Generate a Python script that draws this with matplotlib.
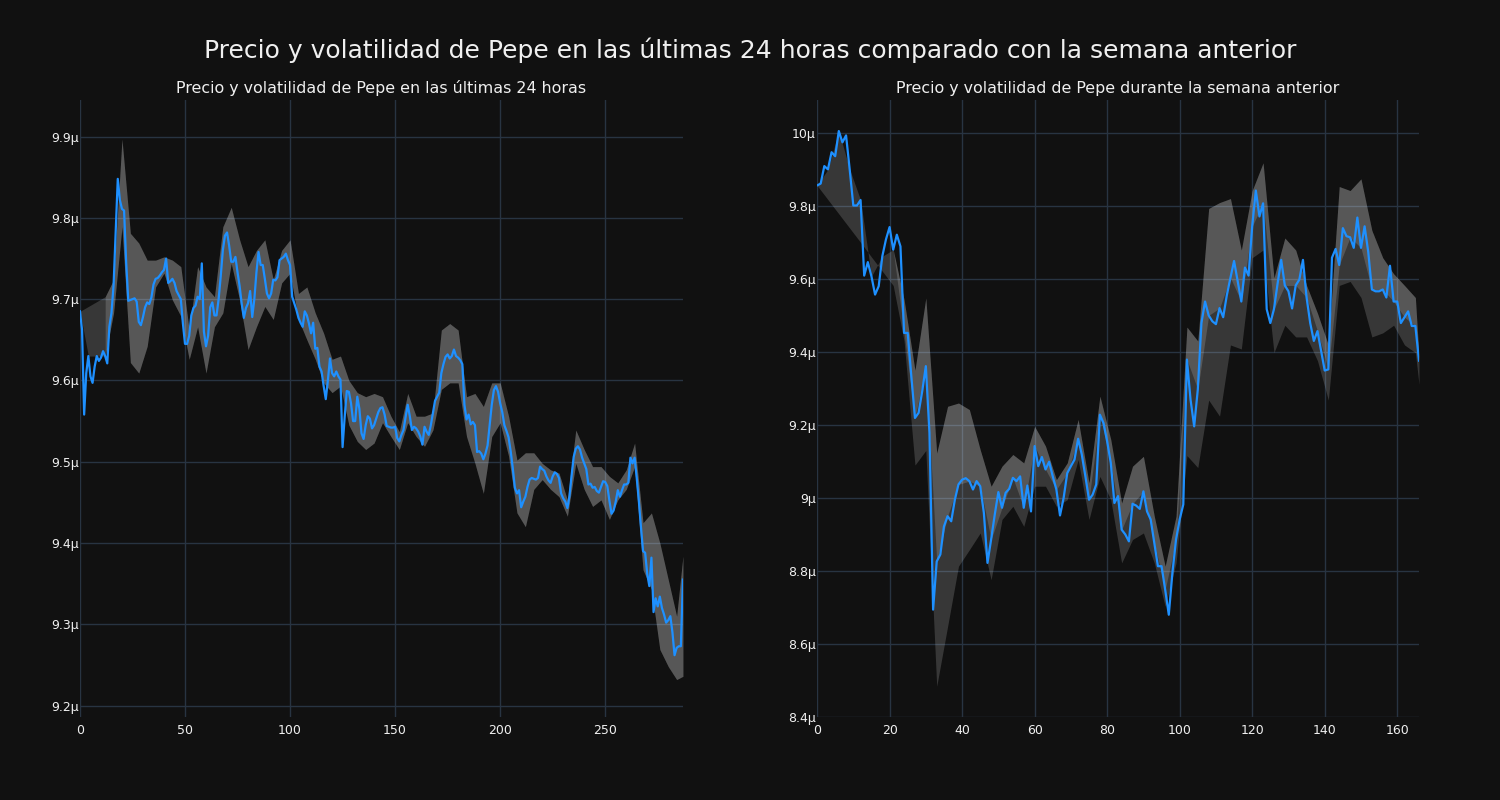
import matplotlib.pyplot as plt
from matplotlib.ticker import EngFormatter, MultipleLocator

# precio de Pepe (en micro-unidades), ultimas 24 horas, una muestra cada 5 min
day_price = [
    9.685, 9.662, 9.558, 9.609, 9.630, 9.605, 9.597, 9.617, 9.630, 9.624,
    9.628, 9.636, 9.630, 9.621, 9.666, 9.683, 9.717, 9.781, 9.848, 9.822,
    9.811, 9.809, 9.745, 9.698, 9.699, 9.700, 9.701, 9.697, 9.672, 9.668,
    9.678, 9.690, 9.696, 9.694, 9.702, 9.718, 9.725, 9.726, 9.729, 9.733,
    9.736, 9.750, 9.720, 9.722, 9.725, 9.720, 9.710, 9.705, 9.700, 9.670,
    9.645, 9.645, 9.655, 9.680, 9.689, 9.692, 9.703, 9.700, 9.744, 9.660,
    9.642, 9.655, 9.690, 9.696, 9.680, 9.680, 9.700, 9.728, 9.760, 9.778,
    9.782, 9.766, 9.746, 9.746, 9.752, 9.733, 9.716, 9.694, 9.677, 9.689,
    9.695, 9.710, 9.678, 9.700, 9.733, 9.758, 9.742, 9.742, 9.725, 9.707,
    9.701, 9.707, 9.724, 9.723, 9.727, 9.748, 9.750, 9.752, 9.756, 9.748,
    9.742, 9.703, 9.695, 9.687, 9.677, 9.671, 9.666, 9.685, 9.680, 9.670,
    9.658, 9.671, 9.639, 9.640, 9.617, 9.611, 9.593, 9.577, 9.600, 9.627,
    9.609, 9.605, 9.611, 9.605, 9.601, 9.518, 9.555, 9.587, 9.586, 9.572,
    9.550, 9.550, 9.580, 9.565, 9.535, 9.528, 9.545, 9.556, 9.553, 9.541,
    9.545, 9.553, 9.561, 9.566, 9.567, 9.558, 9.544, 9.543, 9.542, 9.542,
    9.543, 9.529, 9.525, 9.533, 9.539, 9.555, 9.570, 9.556, 9.539, 9.543,
    9.541, 9.537, 9.531, 9.521, 9.543, 9.537, 9.533, 9.545, 9.560, 9.575,
    9.580, 9.585, 9.609, 9.620, 9.629, 9.632, 9.627, 9.630, 9.638, 9.630,
    9.628, 9.625, 9.620, 9.570, 9.552, 9.558, 9.546, 9.549, 9.545, 9.512,
    9.513, 9.510, 9.503, 9.510, 9.520, 9.545, 9.570, 9.588, 9.593, 9.586,
    9.572, 9.561, 9.545, 9.538, 9.530, 9.513, 9.492, 9.468, 9.461, 9.465,
    9.444, 9.451, 9.457, 9.469, 9.478, 9.480, 9.479, 9.478, 9.480, 9.494,
    9.491, 9.489, 9.482, 9.477, 9.474, 9.482, 9.487, 9.485, 9.480, 9.461,
    9.455, 9.451, 9.443, 9.458, 9.483, 9.506, 9.516, 9.519, 9.515, 9.505,
    9.498, 9.491, 9.472, 9.473, 9.468, 9.469, 9.464, 9.462, 9.469, 9.476,
    9.475, 9.470, 9.452, 9.436, 9.440, 9.451, 9.465, 9.457, 9.465, 9.472,
    9.472, 9.474, 9.505, 9.498, 9.505, 9.480, 9.452, 9.420, 9.390, 9.388,
    9.362, 9.347, 9.382, 9.315, 9.332, 9.322, 9.334, 9.320, 9.312, 9.302,
    9.305, 9.310, 9.290, 9.262, 9.271, 9.273, 9.273, 9.355,
]

# banda de volatilidad (24 h), leida cada 4 muestras
day_band_idx = [
    0, 4, 8, 12, 16, 20, 24, 28, 32, 36, 40, 44, 48, 52, 56, 60, 64, 68,
    72, 76, 80, 84, 88, 92, 96, 100, 104, 108, 112, 116, 120, 124, 128, 132,
    136, 140, 144, 148, 152, 156, 160, 164, 168, 172, 176, 180, 184, 188,
    192, 196, 200, 204, 208, 212, 216, 220, 224, 228, 232, 236, 240, 244,
    248, 252, 256, 260, 264, 268, 272, 276, 280, 284, 287,
]
day_band_hi = [
    9.685, 9.691, 9.697, 9.703, 9.724, 9.897, 9.781, 9.769, 9.748, 9.748,
    9.752, 9.748, 9.740, 9.662, 9.740, 9.715, 9.703, 9.789, 9.813, 9.773,
    9.740, 9.760, 9.773, 9.724, 9.760, 9.773, 9.707, 9.715, 9.683, 9.658,
    9.626, 9.630, 9.600, 9.585, 9.580, 9.584, 9.580, 9.556, 9.537, 9.584,
    9.556, 9.556, 9.560, 9.662, 9.670, 9.662, 9.580, 9.584, 9.568, 9.597,
    9.597, 9.556, 9.502, 9.511, 9.511, 9.498, 9.490, 9.486, 9.453, 9.539,
    9.515, 9.494, 9.494, 9.482, 9.474, 9.490, 9.523, 9.425, 9.437, 9.400,
    9.355, 9.310, 9.384,
]
day_band_lo = [
    9.685, 9.630, 9.630, 9.630, 9.683, 9.789, 9.622, 9.609, 9.642, 9.715,
    9.732, 9.699, 9.679, 9.626, 9.666, 9.609, 9.666, 9.683, 9.744, 9.699,
    9.638, 9.666, 9.691, 9.675, 9.720, 9.732, 9.675, 9.650, 9.626, 9.597,
    9.585, 9.593, 9.545, 9.525, 9.515, 9.523, 9.548, 9.531, 9.515, 9.548,
    9.531, 9.519, 9.539, 9.589, 9.597, 9.597, 9.531, 9.498, 9.461, 9.531,
    9.548, 9.507, 9.437, 9.420, 9.466, 9.478, 9.466, 9.457, 9.433, 9.498,
    9.466, 9.445, 9.453, 9.429, 9.453, 9.466, 9.494, 9.367, 9.343, 9.269,
    9.248, 9.232, 9.236,
]

# precio de Pepe (en micro-unidades), semana anterior, una muestra por hora
week_price = [
    9.856, 9.861, 9.909, 9.900, 9.947, 9.936, 10.005, 9.974, 9.993, 9.900,
    9.801, 9.801, 9.816, 9.609, 9.646, 9.607, 9.557, 9.580, 9.662, 9.708,
    9.742, 9.680, 9.721, 9.689, 9.452, 9.452, 9.333, 9.219, 9.233, 9.292,
    9.361, 9.178, 8.694, 8.826, 8.845, 8.922, 8.950, 8.936, 8.995, 9.037,
    9.050, 9.054, 9.046, 9.023, 9.046, 9.032, 8.959, 8.822, 8.886, 8.954,
    9.016, 8.973, 9.014, 9.025, 9.055, 9.046, 9.059, 8.973, 9.034, 8.963,
    9.142, 9.087, 9.112, 9.078, 9.099, 9.059, 9.023, 8.952, 9.000, 9.068,
    9.087, 9.105, 9.162, 9.119, 9.059, 8.995, 9.009, 9.037, 9.228, 9.205,
    9.155, 9.096, 8.986, 9.005, 8.913, 8.900, 8.881, 8.984, 8.979, 8.970,
    9.018, 8.963, 8.941, 8.877, 8.813, 8.813, 8.749, 8.680, 8.795, 8.886,
    8.941, 8.982, 9.379, 9.269, 9.196, 9.297, 9.479, 9.538, 9.500, 9.484,
    9.476, 9.520, 9.495, 9.555, 9.603, 9.649, 9.593, 9.538, 9.631, 9.609,
    9.744, 9.842, 9.771, 9.807, 9.517, 9.479, 9.517, 9.587, 9.652, 9.582,
    9.566, 9.519, 9.582, 9.598, 9.652, 9.549, 9.479, 9.430, 9.457, 9.403,
    9.349, 9.352, 9.658, 9.682, 9.638, 9.739, 9.717, 9.714, 9.685, 9.768,
    9.685, 9.744, 9.674, 9.571, 9.566, 9.566, 9.571, 9.549, 9.636, 9.538,
    9.538, 9.479, 9.495, 9.511, 9.471, 9.471, 9.376,
]

# banda de volatilidad (semana), leida cada 3 muestras
week_band_idx = [
    0, 3, 6, 9, 12, 15, 18, 21, 24, 27, 30, 33, 36, 39, 42, 45, 48, 51, 54,
    57, 60, 63, 66, 69, 72, 75, 78, 81, 84, 87, 90, 93, 96, 99, 102, 105,
    108, 111, 114, 117, 120, 123, 126, 129, 132, 135, 138, 141, 144, 147,
    150, 153, 156, 159, 162, 165, 166,
]
week_band_hi = [
    9.856, 9.900, 10.005, 9.900, 9.816, 9.607, 9.662, 9.680, 9.543, 9.350,
    9.548, 9.123, 9.251, 9.260, 9.242, 9.132, 9.032, 9.087, 9.119, 9.096,
    9.196, 9.142, 9.050, 9.096, 9.215, 9.041, 9.279, 9.160, 8.986, 9.087,
    9.114, 8.950, 8.813, 8.950, 9.468, 9.430, 9.793, 9.809, 9.820, 9.679,
    9.842, 9.918, 9.603, 9.712, 9.679, 9.582, 9.506, 9.419, 9.853, 9.842,
    9.874, 9.733, 9.658, 9.614, 9.582, 9.549, 9.387,
]
week_band_lo = [
    9.856, 9.817, 9.778, 9.739, 9.700, 9.660, 9.621, 9.582, 9.430, 9.090,
    9.130, 8.484, 8.648, 8.813, 8.858, 8.904, 8.776, 8.941, 8.977, 8.922,
    9.032, 9.032, 8.977, 8.995, 9.105, 8.941, 9.059, 8.995, 8.822, 8.886,
    8.904, 8.822, 8.703, 8.822, 9.116, 9.083, 9.268, 9.224, 9.419, 9.408,
    9.658, 9.679, 9.398, 9.473, 9.441, 9.441, 9.376, 9.268, 9.582, 9.593,
    9.549, 9.441, 9.452, 9.473, 9.419, 9.398, 9.311,
]

BG = '#111111'
GRID = '#283442'
TXT = '#f0f0f0'
LINE = '#1e90ff'


def style_axis(ax, step):
    ax.set_facecolor(BG)
    for s in ax.spines.values():
        s.set_visible(False)
    ax.grid(True, color=GRID, linewidth=1)
    ax.tick_params(colors=TXT, labelsize=9, length=0)
    ax.tick_params(axis='x', pad=5)
    ax.tick_params(axis='y', pad=1)
    ax.yaxis.set_major_formatter(EngFormatter(sep=''))
    ax.yaxis.set_major_locator(MultipleLocator(step))


def main():
    fig = plt.figure(figsize=(15, 8), dpi=100, facecolor=BG)

    # --- ultimas 24 horas
    ax1 = fig.add_axes([0.0533, 0.1038, 0.402, 0.7712])
    style_axis(ax1, 0.1e-6)
    x = list(range(len(day_price)))
    bx = day_band_idx
    hi = [v * 1e-6 for v in day_band_hi]
    lo = [v * 1e-6 for v in day_band_lo]
    ax1.fill_between(bx, lo, hi, color='white', alpha=0.16, lw=0, zorder=2)
    ax1.fill_between(bx[3:], lo[3:], hi[3:], color='white', alpha=0.16, lw=0, zorder=2)
    ax1.plot(x, [v * 1e-6 for v in day_price], color=LINE, lw=1.6, zorder=3)
    ax1.set_xlim(0, x[-1])
    ax1.set_ylim(9.186e-6, 9.945e-6)
    ax1.xaxis.set_major_locator(MultipleLocator(50))
    ax1.set_title('Precio y volatilidad de Pepe en las últimas 24 horas',
                  color=TXT, fontsize=11.4, pad=5)

    # --- semana anterior
    ax2 = fig.add_axes([0.5447, 0.1038, 0.4013, 0.7712])
    style_axis(ax2, 0.2e-6)
    x = list(range(len(week_price)))
    bx = week_band_idx
    hi = [v * 1e-6 for v in week_band_hi]
    lo = [v * 1e-6 for v in week_band_lo]
    mid = [week_price[i] * 1e-6 for i in bx]
    ax2.fill_between(bx, lo, hi, color='white', alpha=0.16, lw=0, zorder=2)
    ax2.fill_between(bx, mid, hi, color='white', alpha=0.16, lw=0, zorder=2)
    ax2.plot(x, [v * 1e-6 for v in week_price], color=LINE, lw=1.6, zorder=3)
    ax2.set_xlim(0, x[-1])
    ax2.set_ylim(8.4e-6, 10.09e-6)
    ax2.xaxis.set_major_locator(MultipleLocator(20))
    ax2.set_title('Precio y volatilidad de Pepe durante la semana anterior',
                  color=TXT, fontsize=11.4, pad=5)

    fig.suptitle('Precio y volatilidad de Pepe en las últimas 24 horas comparado con la semana anterior',
                 color=TXT, fontsize=18, y=0.9375, va='center')

    fig.savefig('out.png', dpi=100, facecolor=BG)


if __name__ == '__main__':
    main()
